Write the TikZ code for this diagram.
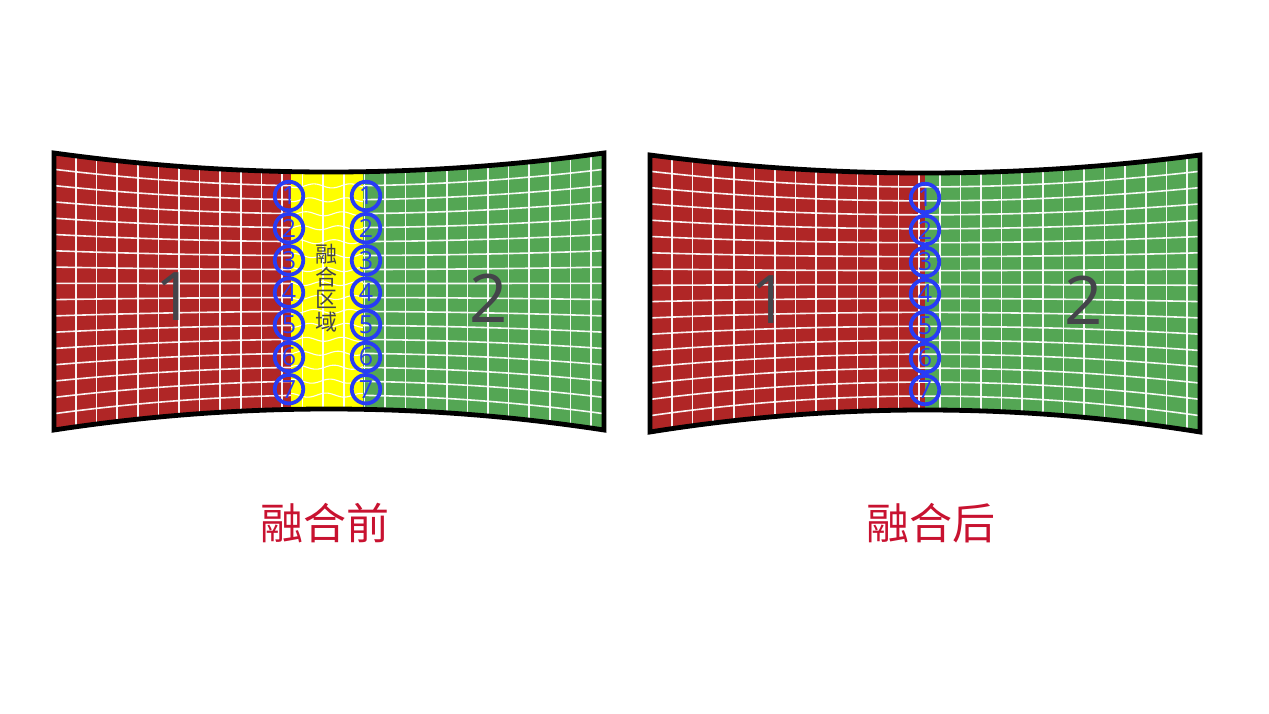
\documentclass[tikz,border=0pt]{standalone}
\usepackage{fontspec}
\setmainfont{Open Sans}
\newfontfamily\cjk{Noto Sans CJK SC}
\definecolor{pred}{RGB}{176,38,38}
\definecolor{pgreen}{RGB}{84,166,84}
\definecolor{pyel}{RGB}{255,255,0}
\definecolor{cblue}{RGB}{40,60,245}
\definecolor{dgray}{RGB}{68,68,74}
\definecolor{capred}{RGB}{200,18,48}
\pgfmathdeclarefunction{ytop}{1}{\pgfmathparse{\Te+(\Tm-\Te)*(1-((#1-\Xc)/\Hw)*((#1-\Xc)/\Hw))}}
\pgfmathdeclarefunction{ybot}{1}{\pgfmathparse{\Be+(\Bm-\Be)*(1-((#1-\Xc)/\Hw)*((#1-\Xc)/\Hw))}}
\newcommand\setpanel[6]{\def\Xa{#1}\def\Xb{#2}\def\Te{#3}\def\Tm{#4}\def\Be{#5}\def\Bm{#6}%
  \pgfmathsetmacro\Xc{(#1+#2)/2}\pgfmathsetmacro\Hw{(#2-#1)/2}}
\newcommand\panelpath{plot[domain=\Xa:\Xb,samples=80] (\x,{ytop(\x)}) -- plot[domain=\Xb:\Xa,samples=80] (\x,{ybot(\x)}) -- cycle}
\newcommand\vgrid{\foreach \i in {0,...,25}{\pgfmathsetmacro\xx{\Xa+22+20.6*\i}\draw[gridline] (\xx,{ytop(\xx)}) -- (\xx,{ybot(\xx)});}}
\tikzset{
  gridline/.style={white,line width=1.6pt,opacity=0.95},
  border/.style={black,line width=4.8pt,line join=miter},
  circ/.style={circle,draw=cblue,line width=3.8pt,minimum size=28.5pt,inner sep=0pt,text=cblue,font=\fontsize{25}{25}\selectfont},
  big/.style={text=dgray,inner sep=0pt,font=\fontsize{67}{67}\selectfont},
  caption/.style={text=capred,inner sep=0pt,font=\cjk\fontsize{43}{43}\selectfont}
}
\begin{document}
\begin{tikzpicture}[x=1pt,y=-1pt]
\useasboundingbox (0,0) rectangle (1269,714);
% ---------- left panel ----------
\begin{scope}
\setpanel{54}{604}{153}{172}{430}{409}
\begin{scope}
 \clip \panelpath;
 \fill[pred] (\Xa,140) rectangle (291,445);
 \fill[pyel] (291,140) rectangle (363,445);
 \fill[pgreen] (363,140) rectangle (\Xb,445);
 \foreach \k in {1,...,16}{
   \draw[gridline] plot[domain=\Xa:291,samples=50] (\x,{ytop(\x)+\k/17*(ybot(\x)-ytop(\x))});
   \draw[gridline,line width=1.1pt] plot[domain=291:363,samples=40] (\x,{ytop(\x)+\k/17*(ybot(\x)-ytop(\x))+2*sin(10*(\x-291)+40*\k)});
   \draw[gridline] plot[domain=363:\Xb,samples=50] (\x,{ytop(\x)+\k/17*(ybot(\x)-ytop(\x))});
 }
 \vgrid
\end{scope}
\draw[border] \panelpath;
\end{scope}
% ---------- right panel ----------
\begin{scope}
\setpanel{650}{1200}{155}{173}{432}{410}
\begin{scope}
 \clip \panelpath;
 \fill[pred] (\Xa,140) rectangle (925,445);
 \fill[pgreen] (925,140) rectangle (\Xb,445);
 \foreach \k in {1,...,16}{
   \draw[gridline] plot[domain=\Xa:\Xb,samples=80] (\x,{ytop(\x)+\k/17*(ybot(\x)-ytop(\x))});
 }
 \vgrid
\end{scope}
\draw[border] \panelpath;
\end{scope}
% ---------- circles ----------
\foreach \n in {1,...,7}{
  \node[circ] (L\n) at (289,{196+32.2*(\n-1)}) {\n};
  \node[circ] (M\n) at (366,{196+32.2*(\n-1)}) {\n};
  \node[circ] (R\n) at (925,{198+32*(\n-1)}) {\n};
}
% ---------- labels ----------
\node[text=dgray,align=center,inner sep=0pt,font=\cjk\fontsize{22}{22.5}\selectfont] (zone) at (326,288) {融\\合\\区\\域};
\node[big] (A1) at (175,297) {1};
\node[big] (A2) at (489,298) {2};
\node[big] (B1) at (770,300) {1};
\node[big] (B2) at (1084,300) {2};
\node[caption] (capL) at (325,523) {融合前};
\node[caption] (capR) at (931,523) {融合后};
\end{tikzpicture}
\end{document}
